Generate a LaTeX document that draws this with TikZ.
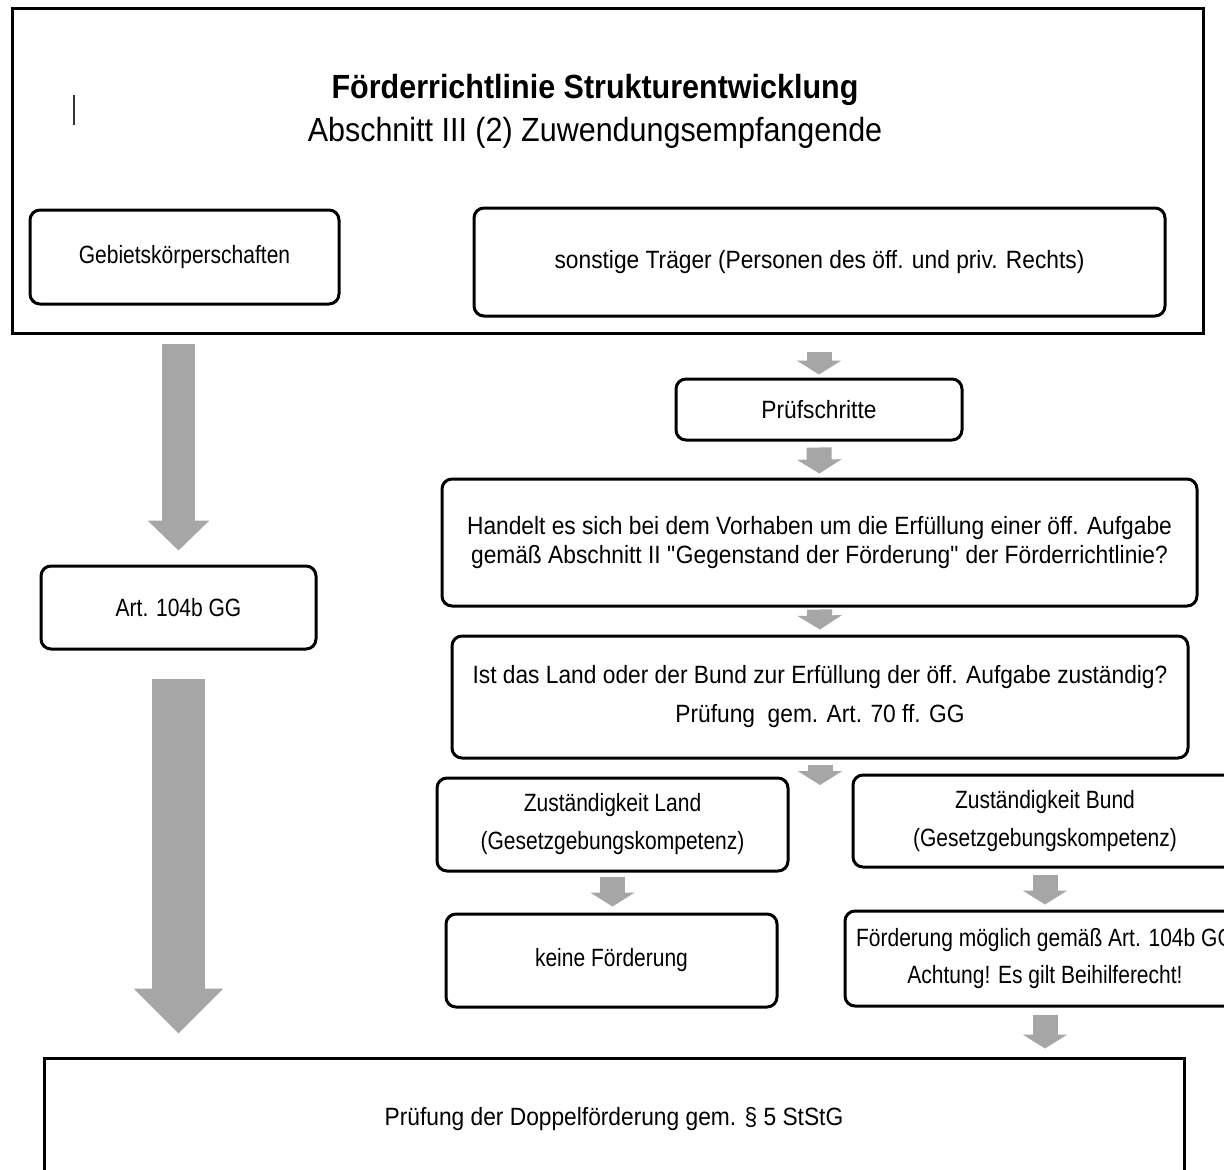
\documentclass[tikz,border=0pt]{standalone}
\usepackage{fontspec}
\setmainfont{Liberation Sans}[FakeStretch=0.91]
\newfontfamily\narrowfont{Liberation Sans}[FakeStretch=0.84]
\usetikzlibrary{arrows.meta}
\definecolor{arrowgray}{RGB}{166,166,166}

\begin{document}
\begin{tikzpicture}[x=1pt,y=-1pt,
    box/.style={draw,line width=3pt,rounded corners=10pt,align=center,inner sep=0pt,
        font=\fontsize{25}{29}\selectfont},
    small/.style={font=\narrowfont\fontsize{25}{29}\selectfont},
    frame/.style={draw,line width=3pt,inner sep=0pt},
    smallarrow/.style={draw=arrowgray,line width=25pt,-{Triangle[width=44pt,length=14pt]}},
    bigarrow/.style={draw=arrowgray,-{Triangle[width=#1]}}]
    \useasboundingbox (0,0) rectangle (1224,1170);
    \clip (0,0) rectangle (1224,1170);
    \fill[white] (0,0) rectangle (1224,1170);

    \node[frame,minimum width=1191pt,minimum height=325pt] (outer) at (607.5,170.5) {};
    \node[align=center,font=\fontsize{33.5}{34}\selectfont] (title) at (595,111.5)
        {\bfseries F\"orderrichtlinie Strukturentwicklung\\[9pt]
         Abschnitt III (2) Zuwendungsempfangende};
    \draw[line width=2pt,black!80] (74,95) -- (74,125);

    \node[box,small,minimum width=309pt,minimum height=94pt] (gebiet) at (184.5,257) {Gebietsk\"orperschaften};
    \node[box,minimum width=691pt,minimum height=108pt] (sonst) at (819.5,262) {sonstige Tr\"ager (Personen des \"off. und priv. Rechts)};
    \node[box,minimum width=286pt,minimum height=61pt] (pruef) at (819,409.5) {Pr\"ufschritte};
    \node[box,minimum width=755pt,minimum height=127pt] (handelt) at (819.5,542.5)
        {Handelt es sich bei dem Vorhaben um die Erf\"ullung einer \"off. Aufgabe\\
         gem\"a\ss{} Abschnitt II \textquotedbl Gegenstand der F\"orderung\textquotedbl{} der F\"orderrichtlinie?};
    \node[box,minimum width=736pt,minimum height=122pt] (ist) at (820,697)
        {Ist das Land oder der Bund zur Erf\"ullung der \"off. Aufgabe zust\"andig?\\[10pt]
         Pr\"ufung\ \ gem. Art. 70 ff. GG};
    \node[box,small,minimum width=351pt,minimum height=93pt] (land) at (612.5,824.5)
        {Zust\"andigkeit Land\\[9pt](Gesetzgebungskompetenz)};
    \node[box,small,minimum width=384pt,minimum height=92pt] (bund) at (1045,821)
        {Zust\"andigkeit Bund\\[9pt](Gesetzgebungskompetenz)};
    \node[box,small,minimum width=331pt,minimum height=93pt] (keine) at (611.5,960.5) {keine F\"orderung};
    \node[box,small,minimum width=400pt,minimum height=95pt] (foerd) at (1045,958.5)
        {F\"orderung m\"oglich gem\"a\ss{} Art. 104b GG\\[8pt]Achtung! Es gilt Beihilferecht!};
    \node[box,small,minimum width=275pt,minimum height=83pt] (art) at (178.5,607.5) {Art. 104b GG};
    \node[frame,minimum width=1140pt,minimum height=122pt,font=\fontsize{25}{29}\selectfont] (bottom) at (614,1119)
        {Pr\"ufung der Doppelf\"orderung gem. \S\ 5 StStG};

    \coordinate (split) at (820,785);

    % Pfeile
    \draw[bigarrow={60pt,length=30pt},line width=33pt,shorten <=9pt,shorten >=14pt] (art.north |- outer.south) -- (art.north);
    \draw[bigarrow={87pt,length=45pt},line width=53pt,shorten <=28pt,shorten >=23pt] (art.south) -- (art.south |- bottom.north);
    \draw[smallarrow,shorten <=17pt,shorten >=3pt] (pruef.north |- outer.south) -- (pruef.north);
    \draw[smallarrow,shorten <=6pt,shorten >=4pt] (pruef.south) -- (handelt.north);
    \draw[smallarrow,shorten <=2pt,shorten >=5pt] (handelt.south) -- (ist.north);
    \draw[smallarrow,shorten <=5pt] (ist.south) -- (split);
    \draw[smallarrow,shorten <=4pt,shorten >=6pt] (land.south) -- (land.south |- keine.north);
    \draw[smallarrow,shorten <=6pt,shorten >=5pt] (bund.south) -- (foerd.north);
    \draw[smallarrow,shorten <=7pt,shorten >=8pt] (foerd.south) -- (foerd.south |- bottom.north);
\end{tikzpicture}
\end{document}
